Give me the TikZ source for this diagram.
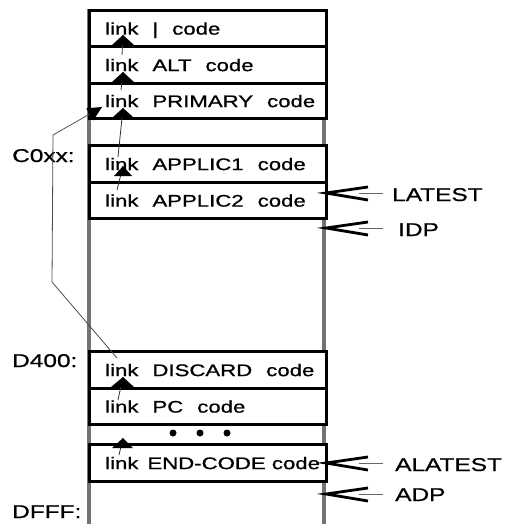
\documentclass[tikz,border=0pt]{standalone}
\usepackage{fontspec}
\setmainfont{Liberation Sans}[FakeStretch=1.32,FakeBold=0.8]
\usetikzlibrary{calc}
\newcommand\wgap{\hspace*{14pt}}
\begin{document}
\begin{tikzpicture}[x=1pt,y=-1pt,
 cell/.style={draw=black,line width=3.2pt,fill=white,minimum width=237pt,anchor=north west,inner sep=0pt},
 txt/.style={font=\fontsize{16.8}{20}\selectfont,anchor=base west,inner sep=0pt},
 lbl/.style={font=\fontsize{18.5}{22}\selectfont,anchor=base west,inner sep=0pt},
 lnk/.style={draw=black!80,line width=0.8pt},
 head/.style={fill=black},
 col/.style={draw=black!55,line width=4pt},
 ptr/.style={draw=black,line width=2.8pt,line join=miter},
 tail/.style={draw=black!60,line width=0.8pt},
 dot/.style={circle,fill=black,inner sep=0pt,minimum size=7pt}]
\useasboundingbox (0,0) rectangle (509,524);
% column sides
\coordinate (cl0) at (89,9); \coordinate (cl1) at (89,524);
\coordinate (cr0) at (324,9); \coordinate (cr1) at (324,524);
\draw[col] (cl0) -- (cl1);
\draw[col] (cr0) -- (cr1);
% cells
\node[cell,minimum height=36pt] (r1) at (88,9) {};
\node[cell,minimum height=37pt] (r2) at (88,45) {};
\node[cell,minimum height=35pt] (r3) at (88,82) {};
\node[cell,minimum height=37pt] (r4) at (88,144) {};
\node[cell,minimum height=36pt] (r5) at (88,181) {};
\node[cell,minimum height=37pt] (r6) at (88,350) {};
\node[cell,minimum height=36pt] (r7) at (88,387) {};
\node[cell,minimum height=37pt] (r8) at (88,443) {};
% texts
\node[txt] (t1) at ($(r1.west)+(17,6)$) {link\wgap|\wgap code};
\node[txt] (t2) at ($(r2.west)+(17,6)$) {link\wgap ALT\wgap code};
\node[txt] (t3) at ($(r3.west)+(17,6)$) {link\wgap PRIMARY\wgap code};
\node[txt] (t4) at ($(r4.west)+(17,6)$) {link\wgap APPLIC1\wgap code};
\node[txt] (t5) at ($(r5.west)+(17,6)$) {link\wgap APPLIC2\wgap code};
\node[txt] (t6) at ($(r6.west)+(17,6)$) {link\wgap DISCARD\wgap code};
\node[txt] (t7) at ($(r7.west)+(17,6)$) {link\wgap PC\wgap code};
\node[txt] (t8) at ($(r8.west)+(17,6)$) {link\hspace*{9pt}END-CODE code};
% dots
\node[dot] (d1) at (173,433) {};
\node[dot] (d2) at (200,433) {};
\node[dot] (d3) at (227,433) {};
% address labels
\node[lbl] (c0xx) at (12,162) {C0xx:};
\node[lbl] (d400) at (12,367) {D400:};
\node[lbl] (dfff) at (12,518) {DFFF:};
% link arrows: tips
\coordinate (h1) at (123,35);
\coordinate (h2) at (123,72);
\coordinate (h3) at (123,108);
\coordinate (h4) at (123,166);
\coordinate (h6) at (123,377);
\coordinate (h8) at (123,438);
\draw[lnk] ($(r2.north west)+(34,10)$) -- (h1);
\draw[lnk] ($(r3.north west)+(33,8)$) -- (h2);
\draw[lnk] ($(r4.north west)+(30,13)$) -- (h3);
\draw[lnk] ($(r5.north west)+(29,9)$) -- (h4);
\draw[lnk] ($(r7.north west)+(30,13)$) -- (h6);
\draw[lnk] ($(r8.north west)+(31,12)$) -- (h8);
\fill[head] (h1) -- ($(h1)+(11,10)$) -- ($(h1)+(-11,10)$) -- cycle;
\fill[head] (h2) -- ($(h2)+(11,10)$) -- ($(h2)+(-11,10)$) -- cycle;
\fill[head] (h3) -- ($(h3)+(10,9)$) -- ($(h3)+(-10,9)$) -- cycle;
\fill[head] (h4) -- ($(h4)+(9,10)$) -- ($(h4)+(-9,10)$) -- cycle;
\fill[head] (h6) -- ($(h6)+(11,10)$) -- ($(h6)+(-12,10)$) -- cycle;
\fill[head] (h8) -- ($(h8)+(10,10)$) -- ($(h8)+(-11,10)$) -- cycle;
\coordinate (bend1) at (52,282);
\coordinate (bend2) at (53,135);
\coordinate (hl) at (102,107);
\draw[lnk,draw=black!70] ($(r6.north west)+(29,8)$) -- (bend1) -- (bend2) -- (hl);
\fill[head] (hl) -- (93.3,120.5) -- (86.3,108.3) -- cycle;
% pointers on the right
\coordinate (pLatest) at (326,193);
\coordinate (pIdp) at (326,228);
\coordinate (pAlatest) at (326,463);
\coordinate (pAdp) at (326,494);
\node[lbl] (latest) at (392,201) {LATEST};
\node[lbl] (idp) at (398,236) {IDP};
\node[lbl] (alatest) at (395,471) {ALATEST};
\node[lbl] (adp) at (395,501) {ADP};
\foreach \p in {pLatest,pIdp,pAlatest,pAdp}{
  \draw[ptr] ($(\p)+(42,-6)$) -- (\p) -- ($(\p)+(42,7)$);
  \draw[tail] ($(\p)+(33,0)$) -- ($(\p)+(57,0)$);
}
\end{tikzpicture}
\end{document}
